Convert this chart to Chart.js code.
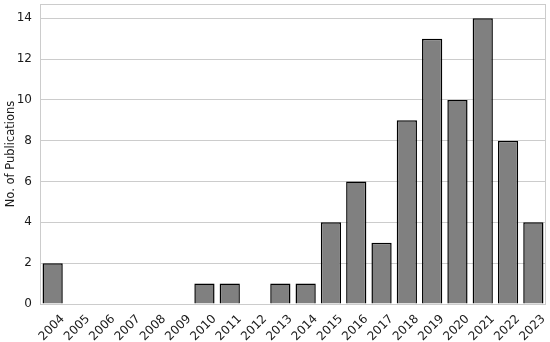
<!DOCTYPE html>
<html>
<head>
<meta charset="UTF-8">
<script src="https://cdn.jsdelivr.net/npm/chart.js"></script>
<style>
  html, body { margin: 0; padding: 0; background: #fff; }
  #wrap { width: 550px; height: 342px; }
</style>
</head>
<body>
<div id="wrap"><canvas id="chart"></canvas></div>
<script>
const years = ['2004','2005','2006','2007','2008','2009','2010','2011','2012','2013',
  '2014','2015','2016','2017','2018','2019','2020','2021','2022','2023'];
const publications = [2, 0, 0, 0, 0, 0, 1, 1, 0, 1, 1, 4, 6, 3, 9, 13, 10, 14, 8, 4];
const yTicks = [0, 2, 4, 6, 8, 10, 12, 14];

// light grey frame round the plot area
const frame = {
  id: 'frame',
  afterDraw(chart) {
    const a = chart.chartArea, ctx = chart.ctx;
    ctx.save();
    ctx.strokeStyle = '#cccccc';
    ctx.lineWidth = 1;
    ctx.strokeRect(a.left + 0.5, a.top + 0.5, a.right - a.left - 1, a.bottom - a.top);
    ctx.restore();
  }
};

new Chart(document.getElementById('chart'), {
  type: 'bar',
  data: {
    labels: years,
    datasets: [{
      data: publications,
      backgroundColor: '#808080',
      borderColor: '#000000',
      borderWidth: 1.5,
      barPercentage: 0.8,
      categoryPercentage: 1.0
    }]
  },
  options: {
    responsive: true,
    maintainAspectRatio: false,
    animation: false,
    layout: { autoPadding: false, padding: { top: 4, right: 4, left: 0, bottom: 0 } },
    plugins: { legend: { display: false }, tooltip: { enabled: false } },
    scales: {
      x: {
        grid: { display: false },
        border: { display: false },
        ticks: {
          color: '#1a1a1a',
          font: { family: 'DejaVu Sans', size: 12 },
          maxRotation: 45, minRotation: 45,
          autoSkip: false, padding: 0, labelOffset: 10
        },
        afterFit(s) { s.height = 38; s.paddingLeft = 0; s.paddingRight = 0; }
      },
      y: {
        min: 0, max: 14.7,
        afterBuildTicks(s) { s.ticks = yTicks.map(v => ({ value: v })); },
        grid: { color: '#cccccc', drawTicks: false },
        border: { display: false },
        ticks: {
          color: '#1a1a1a',
          font: { family: 'DejaVu Sans', size: 12 },
          padding: 8
        },
        title: {
          display: true,
          text: 'No. of Publications',
          color: '#1a1a1a',
          font: { family: 'DejaVu Sans', size: 11.5 },
          padding: { top: 4, bottom: 0 }
        },
        afterFit(s) { s.width = 40; s.paddingTop = 0; s.paddingBottom = 0; }
      }
    }
  },
  plugins: [frame]
});
</script>
</body>
</html>
